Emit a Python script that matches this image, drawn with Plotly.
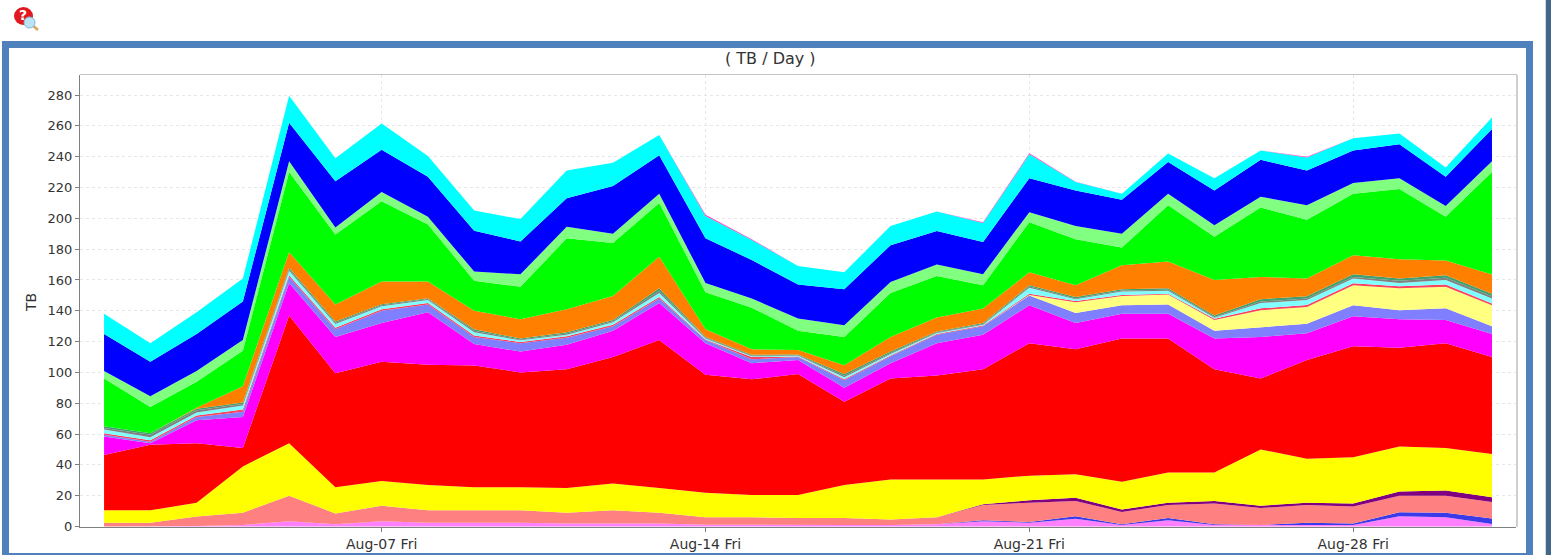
import plotly.graph_objects as go
import pandas as pd

days = pd.date_range("2015-08-01", "2015-08-31").strftime("%Y-%m-%d").tolist()
tick_days = ["2015-08-07", "2015-08-14", "2015-08-21", "2015-08-28"]
y_ticks = list(range(0, 281, 20))

# The top edge of each stacked band, in TB
pink = [0,0,0.3,1,3.5,1.5,3.5,2.5,2.5,2.5,2,2,2,1.2,1,1,1,1,1.5,3.5,2.5,5,1,4,1,1,1,1,6.7,6,1.7]
blue_thin = [0,0,0.3,1,3.5,1.5,3.5,2.5,2.5,2.5,2,2,2,1.2,1,1,1,1,1.5,4,3,6.7,1.5,5.6,1.5,1,2.5,2,9.3,8.9,5.2]
salmon = [2.5,2.5,6.5,9,20,8.5,13.5,10.5,10.5,10.5,9,10.5,9,6,6,5.5,5.5,4.5,6,14,15.5,16.5,9.5,14,15,12,14,13,20,20,16]
purple = [2.5,2.5,6.5,9,20,8.5,13.5,10.5,10.5,10.5,9,10.5,9,6,6,5.5,5.5,4.5,6,14.5,17,18.6,11,15.5,16.5,13.5,15.5,15,22.7,23.4,19]
yellow = [10.5,10.5,15.5,39,54,25.5,29.5,27,25.5,25.5,25,28,25,22,20.5,20.5,27,30.5,30.5,30.5,33,34,29,35,35,50,44,45,52,51,47]
red = [46.5,53,54,51,137,99.5,107,105,104.5,100,102,110,121,98.5,95.5,99,81,96,98,102,119,115,122,122,102,96,108,117,116,119,110]
magenta = [58.5,54,69,71,158,123,132,139,118.5,113.5,118,127,145,119,106,108,90,106,119,124.5,143.6,132,138,138,122,123,125.5,136.5,134.5,134,125]
periwinkle = [59.5,55,71,74.5,162,128,140,144,123,119,122.5,130,148,121,108.5,110,95,110.5,124.5,130,150,138.6,143.6,144,127,129.5,131.6,143.6,140.4,141.6,130]
pale_yellow = [59.5,55,71,74.5,162,128,140,144,123,119,122.5,130,148,121,108.5,110,95,110.5,124.5,130,150.3,145.5,149.6,150.5,134,140.4,142.5,156.6,154.6,155.6,143.6]
rose = [60.5,56,72,76,163,129,141,145,124,119.8,123.5,131,149,121.4,110,110.4,95.6,111,125,130.5,151,146.3,150.3,151,134.8,141.6,143.8,157.8,156,157,144.8]
pale_cyan = [63,58,74,78.5,166,131.5,143,147,126,120.8,124.5,132.5,151.5,122,110.5,110.8,96.8,112,125.6,131,155,147.5,152.5,153,135.5,145,147,161,158,160,148]
gray = [64,59.5,75.5,79.5,167,132.3,143.6,147.6,127,121.4,125.2,133.2,153,122.5,111,111.2,97.8,112.6,126,131.5,155.7,148,153.2,153.7,136,146,148,162,159.5,161.5,149.5]
teal = [65,60.5,76.5,80.5,168,133,144.2,148.2,128,122,126,134,154.6,123,111.5,111.6,99,113.5,126.5,132,156.5,149,154,154.6,137,147.5,149.5,163.7,161,163,151]
orange = [65,60.5,77,91,178,144,159,159,140,134.5,141,149.6,175,128,115,114.6,104.6,123,135.7,141.5,165,156.6,169.6,172,160,162,161,176,173.5,172.6,163.6]
green = [96,77.5,94,114,230,189.5,211,196,159.5,155.6,187,184,210,152,142,127,123,151.5,162.5,156.6,197.5,186.5,181,208.5,188,207,199,216,219,201,230]
pale_green = [101,84.5,101,121,237,194,217,201,165.5,163.7,194.5,190,216,158,148,135,130.6,158.6,170,163.7,204,195,190,216,195.5,214,208.5,223,226,208,237]
blue = [125,107,125,146,262,224,244.5,227,192,185,213,221,241,187,173,157,154,182.6,191.7,184.7,226,218,212,236.5,218,238,231,244,248,227,258]
cyan = [138,119,139,161,279.5,239,261.5,240.5,205,199.5,231,236,254,201.5,186,169,165,195,204.5,197,241.5,223.5,216,242,226,244,239.5,252,255,233,265.5]
hot_pink = [138,119,139,161,279.5,239,261.5,240.5,205,199.5,231,236,254,202.3,186.5,169,165,195,204.5,197.5,242.2,223.8,216,242,226,244,240,252,255,233,265.5]

bands = [
    ("pink", pink, "#FF80FF"), ("blue_thin", blue_thin, "#3A3AE8"), ("salmon", salmon, "#FF8080"),
    ("purple", purple, "#800080"), ("yellow", yellow, "#FFFF00"), ("red", red, "#FF0000"),
    ("magenta", magenta, "#FF00FF"), ("periwinkle", periwinkle, "#8080FF"), ("pale_yellow", pale_yellow, "#FFFF80"),
    ("rose", rose, "#FF4060"), ("pale_cyan", pale_cyan, "#80FFFF"), ("gray", gray, "#808080"),
    ("teal", teal, "#40A070"), ("orange", orange, "#FF8000"), ("green", green, "#00FF00"),
    ("pale_green", pale_green, "#80FF80"), ("blue", blue, "#0000FF"), ("cyan", cyan, "#00FFFF"),
    ("hot_pink", hot_pink, "#FF40C0"),
]

W, H = 1551, 555
L, R, T, B = 80, 1516, 75, 527
px = lambda x: (x - L) / (R - L)
py = lambda y: (B - y) / (B - T)


def rect(x0, y0, x1, y1, fill, layer="below"):
    return dict(type="rect", xref="paper", yref="paper", x0=px(x0), x1=px(x1), y0=py(y1), y1=py(y0),
                fillcolor=fill, line_width=0, layer=layer)


fig = go.Figure()
for i, (name, vals, col) in enumerate(bands):
    fig.add_trace(go.Scatter(x=days, y=vals, name=name, mode="lines", line=dict(width=0, color=col),
                             fill="tozeroy" if i == 0 else "tonexty", fillcolor=col,
                             hoverinfo="skip", showlegend=False))

shapes = [
    rect(2, 41, 1533, 556, "#4F81BD"),
    rect(9, 48, 1526, 553, "#FFFFFF"),
    rect(1546, 0, 1551, 555, "#44668C"),
    rect(1545, 0, 1546, 555, "#D0D8E0"),
    rect(L, T - 1, R + 1, T, "#C4C4C4", "above"),
    rect(R, T, R + 2, B, "#D0D0D0", "above"),
    # help icon
    dict(type="line", xref="paper", yref="paper", x0=px(31), x1=px(38), y0=py(24), y1=py(30),
         line=dict(color="#D8A860", width=2.5)),
    dict(type="circle", xref="paper", yref="paper", x0=px(14), x1=px(33), y0=py(25), y1=py(7),
         fillcolor="#E01820", line_width=0),
    dict(type="circle", xref="paper", yref="paper", x0=px(24), x1=px(35), y0=py(28), y1=py(17),
         fillcolor="#BCE4F4", line=dict(color="#7FB8D8", width=1)),
]


def label(text, x, y, size, color="#333333", weight="normal", angle=0):
    return dict(text=text, xref="paper", yref="paper", x=px(x), y=py(y), xanchor="center", yanchor="middle",
                showarrow=False, textangle=angle,
                font=dict(family="DejaVu Sans", size=size, color=color, weight=weight))


annotations = [
    label("( TB / Day )", 770, 59, 16),
    label("TB", 31, 303, 14, angle=-90),
    label("?", 23, 15, 14, color="#FFFFFF", weight="bold"),
]

fig.update_layout(
    width=W, height=H, autosize=False,
    margin=dict(l=L, r=W - R, t=T, b=H - B, pad=0),
    paper_bgcolor="#FFFFFF", plot_bgcolor="rgba(0,0,0,0)",
    font=dict(family="DejaVu Sans", size=13, color="#333333"),
    shapes=shapes, annotations=annotations, showlegend=False,
    xaxis=dict(type="date", range=["2015-07-31 11:31", "2015-08-31 12:28"], automargin=False,
               tickvals=tick_days, tickformat="%b-%d %a", ticks="outside", ticklen=4, tickcolor="#808080",
               showgrid=True, gridcolor="#E6E6E6", griddash="3px,3px", gridwidth=1,
               showline=True, linecolor="#808080", linewidth=1, zeroline=False,
               tickfont=dict(size=14, color="#333333")),
    yaxis=dict(range=[-0.3, 293], automargin=False, tickvals=y_ticks, ticks="outside", ticklen=4, tickcolor="#808080",
               showgrid=True, gridcolor="#E6E6E6", griddash="3px,3px", gridwidth=1,
               showline=True, linecolor="#808080", linewidth=1, zeroline=False,
               tickfont=dict(size=13, color="#333333")),
)

fig.write_html("out.html", config={"displayModeBar": False, "responsive": False},
               post_script="document.body.style.margin='0';document.body.style.overflow='hidden';")
